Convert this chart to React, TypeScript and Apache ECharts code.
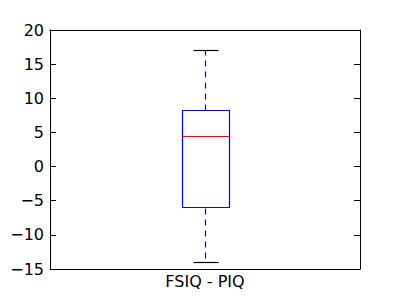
import React, { useEffect, useRef } from "react";
import * as echarts from "echarts";

const categories = ["FSIQ - PIQ"];
// [whiskerLow, q1, median, q3, whiskerHigh]
const boxStats = [[-14, -6, 4.5, 8.25, 17]];
const yTicks = { min: -15, max: 20, interval: 5 };

const FONT = "DejaVu Sans";

export default function App() {
  const ref = useRef<HTMLDivElement>(null);
  useEffect(() => {
    if (!ref.current) return;
    const chart = echarts.init(ref.current, null, { renderer: "svg" });
    const data = boxStats.map((s, i) => [i, ...s]);
    const fmt = (v: number) => String(v).replace("-", "\u2212");
    chart.setOption({
      animation: false,
      grid: { left: 50, top: 30, width: 310, height: 239, show: false },
      xAxis: [
        {
          type: "category",
          data: categories,
          position: "bottom",
          axisLine: { onZero: false, lineStyle: { color: "#000", width: 1 } },
          axisTick: { inside: true, alignWithLabel: true, length: 6, lineStyle: { color: "#000" } },
          axisLabel: { color: "#000", fontFamily: FONT, fontSize: 16, margin: 4 },
        },
        {
          type: "category",
          data: categories,
          position: "top",
          axisLine: { onZero: false, lineStyle: { color: "#000", width: 1 } },
          axisTick: { inside: true, alignWithLabel: true, length: 6, lineStyle: { color: "#000" } },
          axisLabel: { show: false },
        },
      ],
      yAxis: [
        {
          type: "value",
          min: yTicks.min,
          max: yTicks.max,
          interval: yTicks.interval,
          position: "left",
          axisLine: { show: true, onZero: false, lineStyle: { color: "#000", width: 1 } },
          axisTick: { show: true, inside: true, length: 6, lineStyle: { color: "#000" } },
          axisLabel: { color: "#000", fontFamily: FONT, fontSize: 16, margin: 6, formatter: fmt },
          splitLine: { show: false },
        },
        {
          type: "value",
          min: yTicks.min,
          max: yTicks.max,
          interval: yTicks.interval,
          position: "right",
          axisLine: { show: true, onZero: false, lineStyle: { color: "#000", width: 1 } },
          axisTick: { show: true, inside: true, length: 6, lineStyle: { color: "#000" } },
          axisLabel: { show: false },
          splitLine: { show: false },
        },
      ],
      series: [
        {
          type: "custom",
          xAxisIndex: 0,
          yAxisIndex: 0,
          encode: { x: 0, y: [1, 2, 3, 4, 5] },
          data,
          renderItem: (params: any, api: any) => {
            const x = api.value(0);
            const band = api.size([1, 0])[0];
            const bw = band * 0.15;
            const cw = band * 0.08;
            const c = (v: number) => api.coord([x, v]);
            const lo = c(api.value(1));
            const q1 = c(api.value(2));
            const md = c(api.value(3));
            const q3 = c(api.value(4));
            const hi = c(api.value(5));
            const cx = Math.round(lo[0]) + 0.5;
            const r = (v: number) => Math.round(v) + 0.5;
            const blue = "#0000ff";
            return {
              type: "group",
              children: [
                {
                  type: "line",
                  shape: { x1: cx, y1: r(q3[1]), x2: cx, y2: r(hi[1]) },
                  style: { stroke: blue, lineWidth: 1.2, lineDash: [6, 5] },
                },
                {
                  type: "line",
                  shape: { x1: cx, y1: r(q1[1]), x2: cx, y2: r(lo[1]) },
                  style: { stroke: blue, lineWidth: 1.2, lineDash: [6, 5] },
                },
                {
                  type: "line",
                  shape: { x1: r(cx - cw / 2), y1: r(hi[1]), x2: r(cx + cw / 2), y2: r(hi[1]) },
                  style: { stroke: "#000", lineWidth: 1.2 },
                },
                {
                  type: "line",
                  shape: { x1: r(cx - cw / 2), y1: r(lo[1]), x2: r(cx + cw / 2), y2: r(lo[1]) },
                  style: { stroke: "#000", lineWidth: 1.2 },
                },
                {
                  type: "rect",
                  shape: {
                    x: r(cx - bw / 2),
                    y: r(q3[1]),
                    width: Math.round(bw),
                    height: Math.round(q1[1] - q3[1]),
                  },
                  style: { fill: "none", stroke: blue, lineWidth: 1.2 },
                },
                {
                  type: "line",
                  shape: { x1: r(cx - bw / 2), y1: r(md[1]), x2: r(cx + bw / 2), y2: r(md[1]) },
                  style: { stroke: "#ff0000", lineWidth: 1.2 },
                },
              ],
            };
          },
        },
      ],
    });
    return () => chart.dispose();
  }, []);
  return <div ref={ref} style={{ width: 400, height: 300, margin: -8, background: "#fff" }} />;
}
